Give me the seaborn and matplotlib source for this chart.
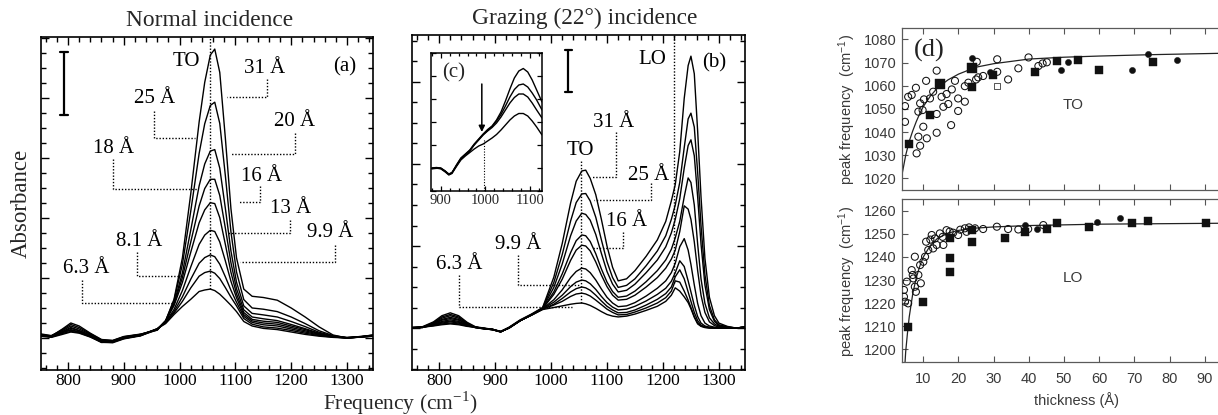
import matplotlib
matplotlib.use("Agg")
import matplotlib.pyplot as plt
from matplotlib.ticker import MultipleLocator
import pandas as pd
import seaborn as sns

# ------------------------------------------------------------------
# (a) normal-incidence absorbance spectra, one list per film thickness
# ------------------------------------------------------------------
freq_normal = [750, 770, 790, 805, 820, 840, 860, 880, 900, 930,
               960, 975, 990, 1005, 1020, 1035, 1045, 1055, 1063, 1072,
               1082, 1092, 1102, 1115, 1130, 1150, 1175, 1200, 1225, 1250,
               1275, 1300, 1325, 1347]

normal_6p3 = [0.012, 0.004, 0.018, 0.028, 0.020, 0.006, -0.010, -0.012, 0.002, 0.010,
              0.031, 0.048, 0.078, 0.105, 0.129, 0.155, 0.160, 0.163, 0.158, 0.146,
              0.128, 0.109, 0.088, 0.055, 0.040, 0.032, 0.028, 0.020, 0.012, 0.006,
              0.002, 0.000, 0.004, 0.006]
normal_8p1 = [0.008, 0.006, 0.022, 0.035, 0.025, 0.010, -0.012, -0.010, 0.000, 0.008,
              0.031, 0.052, 0.083, 0.122, 0.167, 0.206, 0.218, 0.223, 0.216, 0.198,
              0.168, 0.136, 0.107, 0.065, 0.046, 0.037, 0.033, 0.025, 0.016, 0.008,
              0.003, 0.001, 0.003, 0.007]
normal_9p9 = [0.010, 0.003, 0.015, 0.022, 0.018, 0.004, -0.015, -0.014, -0.002, 0.009,
              0.030, 0.052, 0.088, 0.137, 0.196, 0.249, 0.268, 0.277, 0.271, 0.246,
              0.204, 0.159, 0.119, 0.072, 0.052, 0.044, 0.040, 0.030, 0.020, 0.010,
              0.004, -0.001, 0.004, 0.008]
normal_13 = [0.014, 0.008, 0.025, 0.040, 0.030, 0.012, -0.008, -0.010, 0.003, 0.012,
             0.029, 0.053, 0.095, 0.158, 0.237, 0.312, 0.343, 0.359, 0.355, 0.320,
             0.257, 0.189, 0.134, 0.078, 0.057, 0.050, 0.046, 0.035, 0.024, 0.012,
             0.004, 0.001, 0.005, 0.009]
normal_16 = [0.006, 0.002, 0.012, 0.020, 0.016, 0.003, -0.014, -0.016, -0.003, 0.007,
             0.030, 0.057, 0.108, 0.185, 0.286, 0.384, 0.427, 0.451, 0.448, 0.401,
             0.312, 0.219, 0.147, 0.085, 0.062, 0.056, 0.052, 0.040, 0.028, 0.014,
             0.005, 0.000, 0.003, 0.006]
normal_18 = [0.010, 0.005, 0.020, 0.032, 0.024, 0.008, -0.011, -0.012, 0.001, 0.010,
             0.029, 0.057, 0.112, 0.201, 0.320, 0.440, 0.498, 0.529, 0.529, 0.475,
             0.366, 0.251, 0.164, 0.094, 0.070, 0.064, 0.058, 0.045, 0.031, 0.016,
             0.006, 0.001, 0.004, 0.008]
normal_20 = [0.012, 0.007, 0.028, 0.045, 0.035, 0.014, -0.006, -0.009, 0.004, 0.012,
             0.028, 0.057, 0.116, 0.217, 0.360, 0.507, 0.580, 0.623, 0.628, 0.566,
             0.432, 0.290, 0.186, 0.107, 0.082, 0.077, 0.070, 0.055, 0.038, 0.019,
             0.007, 0.002, 0.005, 0.010]
normal_25 = [0.008, 0.004, 0.018, 0.026, 0.020, 0.006, -0.013, -0.013, -0.001, 0.008,
             0.027, 0.058, 0.125, 0.245, 0.423, 0.615, 0.714, 0.775, 0.786, 0.715,
             0.541, 0.354, 0.220, 0.128, 0.100, 0.096, 0.088, 0.070, 0.048, 0.024,
             0.008, 0.000, 0.003, 0.007]
normal_31 = [0.010, 0.006, 0.030, 0.050, 0.040, 0.016, -0.005, -0.008, 0.005, 0.013,
             0.026, 0.057, 0.129, 0.267, 0.481, 0.720, 0.852, 0.943, 0.963, 0.885,
             0.666, 0.431, 0.267, 0.163, 0.139, 0.135, 0.126, 0.100, 0.070, 0.037,
             0.010, 0.000, 0.004, 0.010]

normal_films = ["6.3", "8.1", "9.9", "13", "16", "18", "20", "25", "31"]
normal_spectra = [normal_6p3, normal_8p1, normal_9p9, normal_13, normal_16,
                  normal_18, normal_20, normal_25, normal_31]

# ------------------------------------------------------------------
# (b) grazing-incidence spectra
# ------------------------------------------------------------------
freq_grazing = [750, 770, 790, 805, 820, 835, 850, 865, 880, 895,
                910, 925, 945, 965, 985, 1005, 1020, 1035, 1045, 1055,
                1062, 1070, 1080, 1090, 1100, 1110, 1120, 1135, 1150, 1170,
                1190, 1205, 1215, 1222, 1230, 1238, 1245, 1250, 1256, 1262,
                1268, 1275, 1283, 1292, 1300, 1315, 1330, 1347]

grazing_31 = [0.001, 0.003, 0.015, 0.030, 0.037, 0.030, 0.014, 0.003, 0.000, -0.003,
              -0.008, 0.002, 0.020, 0.034, 0.050,
              0.124, 0.206, 0.305, 0.358, 0.383, 0.385, 0.365, 0.325, 0.265, 0.200,
              0.148, 0.115, 0.120, 0.140, 0.175, 0.215, 0.260, 0.310, 0.350, 0.430,
              0.560, 0.640, 0.663, 0.620, 0.480, 0.320, 0.170, 0.075, 0.030, 0.012,
              0.004, 0.000, 0.002]
grazing_25 = [0.000, 0.002, 0.013, 0.027, 0.033, 0.027, 0.012, 0.002, -0.001, -0.004,
              -0.009, 0.001, 0.019, 0.033, 0.049,
              0.111, 0.179, 0.261, 0.306, 0.327, 0.328, 0.310, 0.270, 0.215, 0.162,
              0.123, 0.099, 0.104, 0.120, 0.152, 0.188, 0.225, 0.265, 0.300, 0.355,
              0.440, 0.510, 0.524, 0.490, 0.380, 0.250, 0.130, 0.055, 0.020, 0.008,
              0.003, 0.000, 0.002]
grazing_20 = [0.000, 0.001, 0.012, 0.024, 0.030, 0.024, 0.011, 0.002, -0.002, -0.003,
              -0.009, 0.000, 0.018, 0.032, 0.048,
              0.099, 0.156, 0.225, 0.261, 0.280, 0.277, 0.263, 0.228, 0.182, 0.138,
              0.107, 0.088, 0.092, 0.107, 0.135, 0.166, 0.198, 0.232, 0.265, 0.315,
              0.390, 0.445, 0.459, 0.420, 0.320, 0.205, 0.105, 0.045, 0.016, 0.006,
              0.002, 0.000, 0.002]
grazing_18 = [0.001, 0.002, 0.011, 0.021, 0.026, 0.021, 0.010, 0.001, -0.001, -0.004,
              -0.010, 0.001, 0.018, 0.032, 0.047,
              0.088, 0.132, 0.184, 0.213, 0.227, 0.225, 0.211, 0.181, 0.144, 0.112,
              0.089, 0.075, 0.078, 0.090, 0.113, 0.140, 0.166, 0.192, 0.220, 0.260,
              0.320, 0.366, 0.355, 0.300, 0.205, 0.120, 0.060, 0.025, 0.010, 0.004,
              0.001, 0.000, 0.002]
grazing_16 = [0.000, 0.002, 0.010, 0.019, 0.023, 0.019, 0.009, 0.002, -0.001, -0.003,
              -0.009, 0.000, 0.018, 0.032, 0.047,
              0.082, 0.119, 0.165, 0.190, 0.202, 0.200, 0.188, 0.161, 0.129, 0.101,
              0.080, 0.068, 0.070, 0.080, 0.100, 0.123, 0.146, 0.168, 0.190, 0.235,
              0.298, 0.290, 0.265, 0.210, 0.140, 0.080, 0.038, 0.015, 0.006, 0.002,
              0.000, 0.000, 0.002]
grazing_13 = [0.001, 0.002, 0.009, 0.016, 0.020, 0.016, 0.008, 0.002, -0.001, -0.004,
              -0.009, 0.000, 0.018, 0.032, 0.047,
              0.069, 0.093, 0.123, 0.138, 0.146, 0.144, 0.135, 0.117, 0.095, 0.075,
              0.061, 0.052, 0.054, 0.062, 0.078, 0.097, 0.115, 0.135, 0.158, 0.198,
              0.218, 0.190, 0.155, 0.105, 0.060, 0.030, 0.012, 0.005, 0.002, 0.000,
              0.000, 0.000, 0.002]
grazing_11 = [0.000, 0.001, 0.008, 0.014, 0.017, 0.014, 0.007, 0.001, -0.002, -0.004,
              -0.009, 0.000, 0.018, 0.032, 0.047,
              0.063, 0.080, 0.101, 0.112, 0.117, 0.115, 0.108, 0.094, 0.077, 0.062,
              0.051, 0.044, 0.046, 0.053, 0.066, 0.082, 0.097, 0.114, 0.135, 0.164,
              0.150, 0.115, 0.088, 0.055, 0.028, 0.012, 0.005, 0.002, 0.000, 0.000,
              0.000, 0.000, 0.002]
grazing_9p9 = [0.001, 0.002, 0.007, 0.012, 0.015, 0.012, 0.006, 0.002, -0.001, -0.003,
               -0.009, 0.001, 0.018, 0.032, 0.046,
               0.058, 0.072, 0.088, 0.096, 0.100, 0.098, 0.092, 0.080, 0.066, 0.053,
               0.044, 0.037, 0.038, 0.044, 0.056, 0.070, 0.084, 0.100, 0.125, 0.142,
               0.120, 0.088, 0.065, 0.038, 0.018, 0.007, 0.003, 0.001, 0.000, 0.000,
               0.000, 0.000, 0.002]
grazing_8p1 = [0.000, 0.002, 0.006, 0.010, 0.012, 0.010, 0.005, 0.001, -0.002, -0.004,
               -0.009, 0.000, 0.018, 0.032, 0.046,
               0.056, 0.065, 0.077, 0.083, 0.085, 0.083, 0.078, 0.068, 0.057, 0.046,
               0.038, 0.032, 0.033, 0.039, 0.049, 0.061, 0.074, 0.090, 0.115, 0.112,
               0.090, 0.068, 0.050, 0.028, 0.012, 0.005, 0.002, 0.000, 0.000, 0.000,
               0.000, 0.000, 0.002]
grazing_6p3 = [0.001, 0.002, 0.005, 0.008, 0.010, 0.008, 0.004, 0.002, -0.001, -0.003,
               -0.009, 0.000, 0.018, 0.031, 0.045,
               0.050, 0.054, 0.058, 0.060, 0.061, 0.059, 0.055, 0.048, 0.040, 0.033,
               0.029, 0.027, 0.029, 0.034, 0.043, 0.053, 0.065, 0.080, 0.098, 0.090,
               0.076, 0.062, 0.047, 0.026, 0.010, 0.004, 0.001, 0.000, 0.000, 0.000,
               0.000, 0.000, 0.002]

grazing_films = ["31", "25", "20", "18", "16", "13", "11", "9.9", "8.1", "6.3"]
grazing_spectra = [grazing_31, grazing_25, grazing_20, grazing_18, grazing_16,
                   grazing_13, grazing_11, grazing_9p9, grazing_8p1, grazing_6p3]

# ------------------------------------------------------------------
# (c) inset: TO band region of the four thickest films
# ------------------------------------------------------------------
freq_inset = [880, 890, 900, 910, 918, 925, 935, 945, 955, 965, 975, 985, 995,
              1005, 1015, 1025, 1035, 1045, 1055, 1065, 1075, 1085, 1095, 1105,
              1115, 1127]
inset_31 = [0.230, 0.235, 0.230, 0.200, 0.165, 0.180, 0.260, 0.330, 0.370, 0.410,
            0.470, 0.520, 0.570, 0.615, 0.650, 0.710, 0.790, 0.900, 1.020, 1.130,
            1.200, 1.225, 1.190, 1.110, 1.010, 0.890]
inset_25 = [0.225, 0.232, 0.228, 0.198, 0.170, 0.185, 0.255, 0.325, 0.365, 0.405,
            0.465, 0.515, 0.565, 0.605, 0.645, 0.700, 0.765, 0.850, 0.940, 1.015,
            1.060, 1.070, 1.040, 0.980, 0.910, 0.810]
inset_20 = [0.228, 0.230, 0.225, 0.195, 0.168, 0.182, 0.250, 0.320, 0.360, 0.400,
            0.460, 0.510, 0.560, 0.600, 0.635, 0.680, 0.740, 0.810, 0.880, 0.935,
            0.970, 0.970, 0.940, 0.880, 0.810, 0.730]
inset_16 = [0.222, 0.228, 0.222, 0.190, 0.160, 0.175, 0.245, 0.310, 0.350, 0.385,
            0.420, 0.450, 0.470, 0.500, 0.530, 0.565, 0.610, 0.660, 0.710, 0.750,
            0.775, 0.775, 0.750, 0.700, 0.640, 0.560]
inset_films = ["31", "25", "20", "16"]
inset_spectra = [inset_31, inset_25, inset_20, inset_16]

# ------------------------------------------------------------------
# (d) peak frequency versus film thickness
# ------------------------------------------------------------------
to_open_t = [4.8, 4.8, 5.7, 6.7, 7.9, 8.6, 9.1, 9.8, 10.2, 8.1, 9.1, 8.6, 10.0,
             11.0, 10.8, 11.9, 12.8, 13.8, 13.8, 13.8, 15.2, 15.7, 16.6, 17.1,
             17.9, 18.1, 19.0, 19.9, 19.9, 21.8, 21.8, 22.8, 25.0, 25.2, 25.6,
             27.0, 31.0, 31.0, 34.1, 37.0, 39.9, 42.7, 43.9, 45.1]
to_open_f = [1051.2, 1044.4, 1055.2, 1056.0, 1059.1, 1048.8, 1052.4, 1049.5,
             1054.1, 1030.8, 1034.1, 1038.0, 1042.3, 1037.3, 1062.1, 1054.5,
             1057.4, 1066.5, 1047.8, 1039.7, 1055.2, 1050.9, 1056.4, 1052.1,
             1043.0, 1058.4, 1062.1, 1054.5, 1049.1, 1059.8, 1053.1, 1061.3,
             1062.7, 1070.3, 1063.6, 1064.2, 1071.4, 1066.0, 1062.7, 1067.5,
             1072.2, 1068.5, 1069.6, 1070.1]
to_square_t = [5.8, 11.9, 23.8, 29.9, 41.7, 47.9, 54.0, 60.0, 75.3]
to_square_f = [1035.0, 1047.5, 1059.4, 1064.5, 1065.9, 1070.5, 1071.2, 1066.9, 1070.2]
to_bigsquare_t = [14.8, 23.8]
to_bigsquare_f = [1060.9, 1067.6]
to_opensquare_t = [31.0]
to_opensquare_f = [1059.7]
to_dot_t = [23.8, 28.9, 49.0, 51.0, 69.2, 73.9, 82.0]
to_dot_f = [1071.9, 1065.9, 1066.9, 1070.2, 1066.9, 1073.8, 1070.9]
to_fit_t = [4.0, 4.5, 5, 6, 7, 8, 9, 10, 12, 14, 17, 20, 25, 30, 40, 50, 60, 75, 95]
to_fit_f = [1022, 1026, 1030, 1036, 1040.5, 1044.5, 1048, 1051, 1055.5, 1059,
            1062.5, 1065, 1068, 1069.5, 1071.5, 1072.3, 1072.8, 1073.4, 1074]

lo_open_t = [4.5, 4.5, 4.8, 5.3, 5.7, 6.7, 7.2, 7.6, 7.6, 7.9, 8.6, 9.1, 9.3,
             10.0, 10.5, 10.8, 11.4, 12.4, 12.8, 13.3, 13.8, 14.7, 15.5, 16.6,
             18.5, 19.9, 21.8, 22.3, 24.7, 27.0, 30.9, 34.1, 37.0, 39.8, 44.1,
             7.0, 15.7, 17.5, 20.5, 23.0, 12.0]
lo_open_f = [1225.7, 1222.8, 1220.6, 1229.3, 1219.9, 1234.3, 1230.7, 1240.1,
             1227.1, 1224.9, 1232.2, 1236.5, 1228.6, 1237.9, 1240.1, 1246.6,
             1243.0, 1249.5, 1243.7, 1248.0, 1245.2, 1250.2, 1248.7, 1251.6,
             1250.5, 1249.5, 1252.4, 1250.9, 1252.4, 1252.1, 1253.1, 1252.1,
             1251.9, 1252.1, 1253.8, 1232.2, 1245.2, 1251.0, 1251.8, 1252.8, 1247.5]
lo_square_t = [5.7, 9.8, 17.6, 17.6, 17.6, 23.7, 23.7, 33.2, 38.9, 45.1, 48.1,
               57.2, 69.2, 73.9, 90.3]
lo_square_f = [1209.8, 1220.6, 1239.7, 1233.6, 1248.0, 1251.6, 1246.6, 1248.0,
               1250.9, 1251.9, 1254.5, 1253.1, 1254.5, 1255.5, 1254.5]
lo_dot_t = [38.9, 42.2, 59.3, 65.9]
lo_dot_f = [1253.8, 1251.9, 1255.0, 1256.7]
lo_fit_t = [4.8, 5.0, 5.5, 6, 7, 8, 9, 10, 12, 14, 17, 20, 25, 30, 40, 60, 95]
lo_fit_f = [1194, 1199, 1207, 1214, 1224, 1231, 1236, 1240, 1245, 1248, 1250.3,
            1251.5, 1252.5, 1253, 1253.6, 1254.2, 1254.6]


def long_form(freq, films, spectra):
    rows = []
    for film, values in zip(films, spectra):
        if len(values) != len(freq):
            raise ValueError(f"spectrum {film} has {len(values)} points")
        rows.append(pd.DataFrame({"freq": freq, "absorbance": values, "film": film}))
    return pd.concat(rows, ignore_index=True)


df_normal = long_form(freq_normal, normal_films, normal_spectra)
df_grazing = long_form(freq_grazing, grazing_films, grazing_spectra)
df_inset = long_form(freq_inset, inset_films, inset_spectra)

# ------------------------------------------------------------------
# figure
# ------------------------------------------------------------------
sns.set_style("ticks")
plt.rcParams["font.family"] = ["Liberation Serif", "DejaVu Serif"]
plt.rcParams["mathtext.fontset"] = "stix"

W, H = 1218, 415
fig = plt.figure(figsize=(W / 100, H / 100), dpi=100)
fig.patch.set_facecolor("white")


def box(x0, y0, x1, y1):
    return [x0 / W, 1 - y1 / H, (x1 - x0) / W, (y1 - y0) / H]


ax_a = fig.add_axes(box(41, 36.7, 373, 370))
ax_b = fig.add_axes(box(412, 35, 745, 370))
ax_c = fig.add_axes(box(431, 53, 542, 191))
ax_to = fig.add_axes(box(902, 28, 1220, 190))
ax_lo = fig.add_axes(box(902, 199, 1220, 362))

LINE = dict(color="black", linewidth=1.0)
DOT = dict(color="black", linewidth=1.0, linestyle=(0, (1, 1.3)))


def spectrum_axis(ax, ymaj):
    ax.set_xlim(751.6, 1346.6)
    ax.xaxis.set_major_locator(MultipleLocator(100))
    ax.xaxis.set_minor_locator(MultipleLocator(20))
    ax.yaxis.set_major_locator(MultipleLocator(ymaj))
    ax.yaxis.set_minor_locator(MultipleLocator(0.05))
    ax.tick_params(which="both", direction="in", top=True, right=True,
                   labelleft=False, width=1.0, color="black")
    ax.tick_params(which="major", length=6)
    ax.tick_params(which="minor", length=3.5)
    ax.tick_params(axis="x", labelsize=12.5, pad=2.5, labelcolor="black")
    for s in ax.spines.values():
        s.set_linewidth(1.2)
        s.set_color("black")
    ax.set_xlabel("")
    ax.set_ylabel("")


def leader(ax, xs, ys):
    ax.plot(xs, ys, **DOT)


def scale_bar(ax, x, y0, y1, half):
    ax.plot([x, x], [y0, y1], color="black", linewidth=1.6)
    ax.plot([x - half, x + half], [y0, y0], color="black", linewidth=1.6)
    ax.plot([x - half, x + half], [y1, y1], color="black", linewidth=1.6)


# ---------------- (a)
sns.lineplot(data=df_normal, x="freq", y="absorbance", units="film",
             estimator=None, sort=False, legend=False, ax=ax_a, **LINE)
spectrum_axis(ax_a, 0.2)
ax_a.set_ylim(-0.1067, 1.0043)
leader(ax_a, [1054.5, 1054.5], [0.163, 1.0043])
scale_bar(ax_a, 792.8, 0.743, 0.953, 7)
TXT = dict(ha="center", va="center", fontsize=15, color="black")
ax_a.text(1011.5, 0.92, "TO", **TXT)
ax_a.text(1295.5, 0.903, "(a)", **TXT)
normal_labels = [("31 Å", 1153, 0.897, [1156.6, 1156.6, 1084.9], [0.863, 0.803, 0.803]),
                 ("25 Å", 956, 0.797, [954.1, 954.1, 1027.6], [0.757, 0.667, 0.667]),
                 ("20 Å", 1206, 0.72, [1206.8, 1206.8, 1090.3], [0.683, 0.613, 0.613]),
                 ("18 Å", 881.5, 0.633, [880.6, 880.6, 1033.0], [0.597, 0.497, 0.497]),
                 ("16 Å", 1146, 0.537, [1144.1, 1144.1, 1104.7], [0.507, 0.453, 0.453]),
                 ("13 Å", 1198, 0.433, [1197.9, 1197.9, 1084.9], [0.393, 0.35, 0.35]),
                 ("9.9 Å", 1270, 0.35, [1278.5, 1278.5, 1108.2], [0.31, 0.253, 0.253]),
                 ("8.1 Å", 928, 0.32, [923.6, 923.6, 1004.3], [0.287, 0.207, 0.207]),
                 ("6.3 Å", 832, 0.233, [825.1, 825.1, 988.2], [0.193, 0.117, 0.117])]
for text, tx, ty, lx, ly in normal_labels:
    ax_a.text(tx, ty, text, **TXT)
    leader(ax_a, lx, ly)

# ---------------- (b)
sns.lineplot(data=df_grazing, x="freq", y="absorbance", units="film",
             estimator=None, sort=False, legend=False, ax=ax_b, **LINE)
spectrum_axis(ax_b, 0.2)
ax_b.set_ylim(-0.1024, 0.7146)
leader(ax_b, [1052.7, 1052.7], [0.061, 0.41])
leader(ax_b, [1219.3, 1219.3], [0.11, 0.7146])
scale_bar(ax_b, 1031.2, 0.576, 0.678, 7)
ax_b.text(1052.7, 0.434, "TO", **TXT)
ax_b.text(1181.2, 0.654, "LO", **TXT)
ax_b.text(1291.0, 0.646, "(b)", **TXT)
grazing_labels = [("31 Å", 1111.8, 0.502, [1115.4, 1115.4, 1073.6], [0.478, 0.368, 0.368]),
                  ("25 Å", 1175.0, 0.373, [1179.4, 1179.4, 1076.0], [0.354, 0.312, 0.312]),
                  ("16 Å", 1134.0, 0.259, [1128.0, 1128.0, 1074.0], [0.235, 0.194, 0.194]),
                  ("9.9 Å", 941.6, 0.204, [941.6, 941.6, 1050.3], [0.178, 0.105, 0.105]),
                  ("6.3 Å", 836.4, 0.155, [835.3, 835.3, 1038.3], [0.129, 0.052, 0.052])]
for text, tx, ty, lx, ly in grazing_labels:
    ax_b.text(tx, ty, text, **TXT)
    leader(ax_b, lx, ly)

# ---------------- (c) inset
ax_c.set_facecolor("white")
sns.lineplot(data=df_inset, x="freq", y="absorbance", units="film",
             estimator=None, sort=False, legend=False, ax=ax_c, **LINE)
ax_c.set_xlim(878, 1127)
ax_c.set_ylim(0, 1.38)
ax_c.xaxis.set_major_locator(MultipleLocator(100))
ax_c.xaxis.set_minor_locator(MultipleLocator(20))
ax_c.yaxis.set_major_locator(MultipleLocator(0.23))
ax_c.tick_params(which="both", direction="in", top=True, right=True,
                 labelleft=False, width=0.9, color="black")
ax_c.tick_params(which="major", length=3.5)
ax_c.tick_params(which="minor", length=2)
ax_c.tick_params(axis="x", labelsize=10.5, pad=2)
for s in ax_c.spines.values():
    s.set_linewidth(1.1)
    s.set_color("black")
ax_c.set_xlabel("")
ax_c.set_ylabel("")
ax_c.plot([996, 996], [0.0, 0.52], color="black", linewidth=0.8,
          linestyle=(0, (1, 1.5)))
ax_c.annotate("", xy=(992, 0.59), xytext=(992, 1.07),
              arrowprops=dict(arrowstyle="-|>", color="black", lw=1.1,
                              mutation_scale=9, shrinkA=0, shrinkB=0))
ax_c.text(928.5, 1.177, "(c)", ha="center", va="center", fontsize=15)

# ---------------- titles and shared labels
fig.text(210 / W, 1 - 20 / H, "Normal incidence", ha="center", va="center",
         fontsize=16.8)
fig.text(585 / W, 1 - 18 / H, "Grazing (22°) incidence", ha="center",
         va="center", fontsize=16.8)
fig.text(21 / W, 1 - 203 / H, "Absorbance", rotation=90, ha="center",
         va="center", fontsize=16.5)
fig.text(401 / W, 1 - 409.5 / H, r"Frequency (cm$^{\mathregular{-1}}$)",
         ha="center", va="baseline", fontsize=15.5)

# ---------------- (d)
GREY = "#3a3a3a"
SANS = "Liberation Sans"
MK = "#111111"


def peak_axis(ax, ylim, ticks, show_x):
    ax.set_xlim(3.95, 94.3)
    ax.set_ylim(*ylim)
    ax.set_xticks([10, 20, 30, 40, 50, 60, 70, 80, 90])
    ax.set_yticks(ticks)
    ax.tick_params(direction="in", top=True, bottom=True, left=True, right=False,
                   length=4, width=0.8, color="#555555", labelcolor=GREY,
                   labelsize=10.5, labelbottom=show_x)
    ax.tick_params(axis="x", pad=7)
    ax.tick_params(axis="y", pad=4)
    for lab in ax.get_xticklabels() + ax.get_yticklabels():
        lab.set_fontfamily(SANS)
    for name, s in ax.spines.items():
        s.set_linewidth(0.9)
        s.set_color("#5a5a5a")
    ax.spines["right"].set_visible(False)
    ax.set_xlabel("")
    ax.set_ylabel("")


for ax, fit_t, fit_f, o_t, o_f, s_t, s_f, d_t, d_f in [
        (ax_to, to_fit_t, to_fit_f, to_open_t, to_open_f, to_square_t,
         to_square_f, to_dot_t, to_dot_f),
        (ax_lo, lo_fit_t, lo_fit_f, lo_open_t, lo_open_f, lo_square_t,
         lo_square_f, lo_dot_t, lo_dot_f)]:
    sns.lineplot(x=fit_t, y=fit_f, ax=ax, color="#222222", linewidth=0.9,
                 sort=False, estimator=None)
    sns.scatterplot(x=o_t, y=o_f, ax=ax, marker="o", s=26, facecolor="none",
                    edgecolor=MK, linewidth=0.75, zorder=3)
    sns.scatterplot(x=s_t, y=s_f, ax=ax, marker="s", s=28, color=MK,
                    edgecolor=MK, linewidth=0.3, zorder=4)
    sns.scatterplot(x=d_t, y=d_f, ax=ax, marker="o", s=20, color=MK,
                    edgecolor=MK, linewidth=0.3, zorder=4)

sns.scatterplot(x=to_bigsquare_t, y=to_bigsquare_f, ax=ax_to, marker="s", s=48,
                color=MK, edgecolor=MK, linewidth=0.3, zorder=4)
sns.scatterplot(x=to_opensquare_t, y=to_opensquare_f, ax=ax_to, marker="s", s=18,
                facecolor="none", edgecolor="#555555", linewidth=0.7, zorder=4)

peak_axis(ax_to, (1015.0, 1084.9), [1020, 1030, 1040, 1050, 1060, 1070, 1080], False)
peak_axis(ax_lo, (1194.5, 1265.1), [1200, 1210, 1220, 1230, 1240, 1250, 1260], True)

ax_to.text(52.6, 1051.7, "TO", ha="center", va="center", fontsize=11,
           family=SANS, color=GREY)
ax_lo.text(52.6, 1230.7, "LO", ha="center", va="center", fontsize=11,
           family=SANS, color=GREY)
ax_to.text(11.6, 1075.4, "(d)", ha="center", va="center", fontsize=19,
           color="#222222")

fig.text(847 / W, 1 - 109 / H, r"peak frequency  (cm$^{\mathregular{-1}}$)",
         rotation=90, ha="center", va="center", fontsize=10.5, family=SANS,
         color=GREY)
fig.text(847 / W, 1 - 281 / H, r"peak frequency  (cm$^{\mathregular{-1}}$)",
         rotation=90, ha="center", va="center", fontsize=10.5, family=SANS,
         color=GREY)
fig.text(1076.7 / W, 1 - 400 / H, "thickness (Å)", ha="center", va="center",
         fontsize=10.5, family=SANS, color=GREY)

fig.savefig("out.png", dpi=100, facecolor="white")
